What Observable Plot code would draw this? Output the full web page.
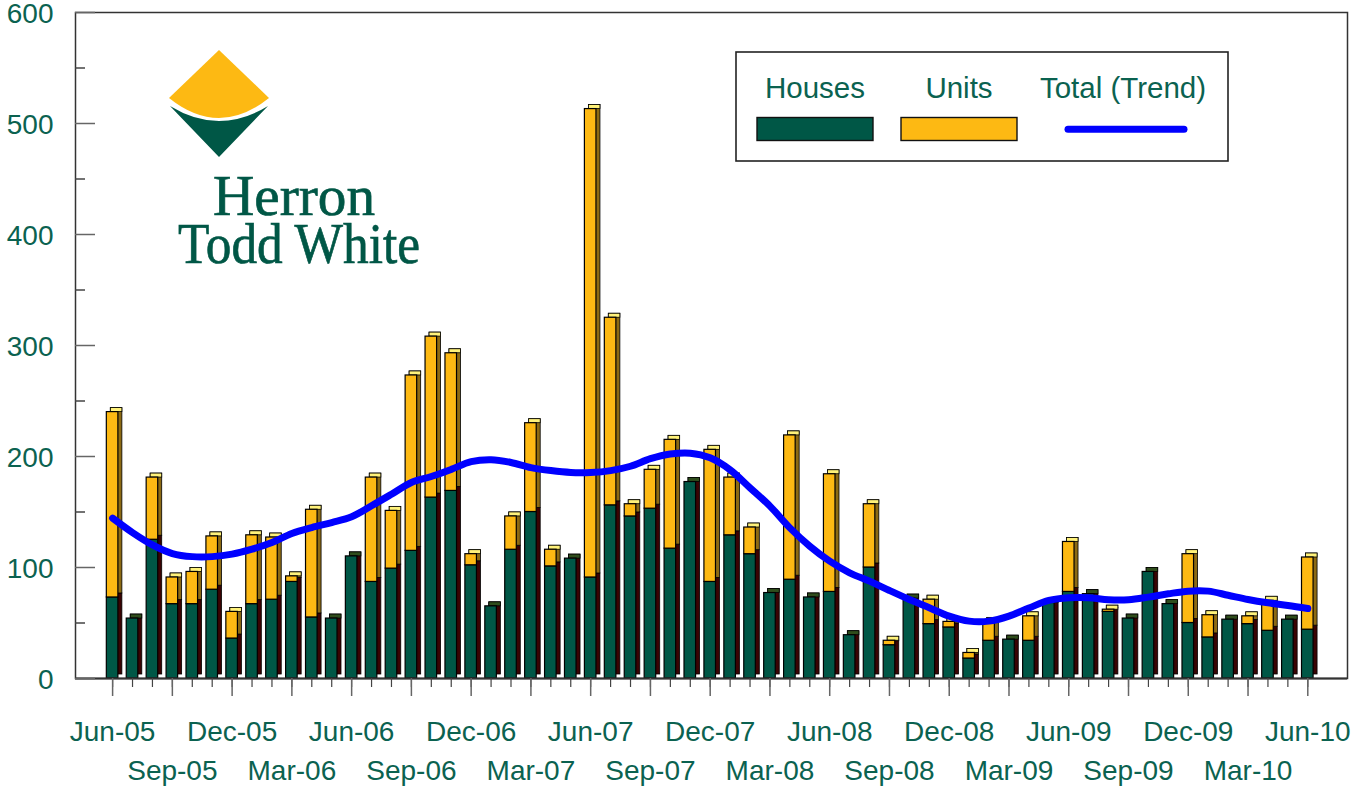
<!DOCTYPE html>
<html>
<head>
<meta charset="utf-8">
<script src="https://cdn.jsdelivr.net/npm/d3@7"></script>
<script src="https://cdn.jsdelivr.net/npm/@observablehq/plot@0.6"></script>
<style>
  html, body { margin: 0; padding: 0; background: #fff; }
  #wrap { position: relative; width: 1355px; height: 790px; }
  #overlay { position: absolute; left: 0; top: 0; pointer-events: none; }
</style>
</head>
<body>
<div id="wrap">
  <div id="chart"></div>
  <svg id="overlay" width="1355" height="790" xmlns="http://www.w3.org/2000/svg">
    <!-- logo -->
    <path d="M169,98 L219,50 L269,98 Q219,138 169,98 Z" fill="#fdb913"/>
    <path d="M170,106 Q219,136 268,106 L219,157 Z" fill="#005746"/>
    <text font-family="'Liberation Serif', 'DejaVu Serif', serif" font-size="57" fill="#005746" stroke="#005746" stroke-width="0.7" text-anchor="start">
      <tspan x="213" y="215" textLength="162" lengthAdjust="spacingAndGlyphs">Herron</tspan>
      <tspan x="178" y="263" textLength="242" lengthAdjust="spacingAndGlyphs">Todd White</tspan>
    </text>
    <!-- legend -->
    <rect x="736" y="52" width="492" height="109" fill="#fff" stroke="#222" stroke-width="1.6"/>
    <g font-family="'Liberation Sans', Arial, sans-serif" font-size="29.5" fill="#0b6250" text-anchor="middle">
      <text x="815" y="98">Houses</text>
      <text x="959" y="98">Units</text>
      <text x="1123" y="98">Total (Trend)</text>
    </g>
    <rect x="757" y="117.5" width="116" height="23" fill="#005746" stroke="#111" stroke-width="1.4"/>
    <rect x="901" y="117.5" width="116" height="23" fill="#fdb913" stroke="#111" stroke-width="1.4"/>
    <line x1="1068" y1="129.3" x2="1184" y2="129.3" stroke="#0000ff" stroke-width="7" stroke-linecap="round"/>
  </svg>
</div>
<script>
// ---- data ----
const months = [
  "Jun-05","Jul-05","Aug-05","Sep-05","Oct-05","Nov-05","Dec-05",
  "Jan-06","Feb-06","Mar-06","Apr-06","May-06","Jun-06","Jul-06","Aug-06","Sep-06","Oct-06","Nov-06","Dec-06",
  "Jan-07","Feb-07","Mar-07","Apr-07","May-07","Jun-07","Jul-07","Aug-07","Sep-07","Oct-07","Nov-07","Dec-07",
  "Jan-08","Feb-08","Mar-08","Apr-08","May-08","Jun-08","Jul-08","Aug-08","Sep-08","Oct-08","Nov-08","Dec-08",
  "Jan-09","Feb-09","Mar-09","Apr-09","May-09","Jun-09","Jul-09","Aug-09","Sep-09","Oct-09","Nov-09","Dec-09",
  "Jan-10","Feb-10","Mar-10","Apr-10","May-10","Jun-10"
];
const houses = [
  73, 54, 125, 67, 67, 80, 36,
  67, 71, 87, 55, 54, 110, 87, 99, 115, 163, 169, 102,
  65, 116, 150, 101, 108, 91, 156, 146, 153, 117, 177, 87,
  129, 112, 77, 89, 73, 78, 39, 100, 30, 72, 49, 46,
  18, 34, 35, 34, 68, 78, 76, 60, 54, 96, 67, 50,
  37, 53, 49, 43, 53, 44
];
const units = [
  167, 0, 56, 24, 29, 48, 24,
  62, 56, 5, 97, 0, 0, 94, 52, 158, 145, 124, 10,
  0, 30, 80, 15, 0, 422, 169, 11, 35, 98, 0, 119,
  52, 24, 0, 130, 0, 106, 0, 57, 4, 0, 22, 5,
  5, 17, 0, 22, 0, 45, 0, 2, 0, 0, 0, 62,
  20, 0, 7, 27, 0, 65
];
const trend = [
  144.5, 131.5, 120.4, 112.6, 109.8, 109.8, 112,
  116.5, 122.5, 130.6, 136, 140.5, 145.7, 155.6, 166, 176.6, 182, 188.4, 195.3,
  197, 194.6, 190, 187.3, 185.6, 185.6, 187.3, 191.2, 198, 202.2, 203, 198.8,
  188, 171.8, 155.3, 135.7, 119.2, 105.7, 95.2, 87.7, 79.3, 71.2, 63.7, 56.2,
  51.7, 51.7, 56.2, 63.5, 70.3, 72.7, 72.7, 70.9, 70.9, 73.3, 76.3, 78.7,
  78.7, 75, 71.2, 68.2, 65.8, 63
];
const yTicks = [0, 100, 200, 300, 400, 500, 600];
const yMinor = [50, 150, 250, 350, 450, 550];
const labelsRow1 = months.filter(m => m.startsWith("Jun") || m.startsWith("Dec"));
const labelsRow2 = months.filter(m => m.startsWith("Mar") || m.startsWith("Sep"));
const quarterly = months.filter(m => /^(Mar|Jun|Sep|Dec)/.test(m));

// ---- table ----
const data = months.map((m, i) => ({
  month: m, houses: houses[i], units: units[i], total: houses[i] + units[i], trend: trend[i]
}));
const withUnits = data.filter(d => d.units > 0);
const housesOnly = data.filter(d => d.units === 0);

const GREEN = "#0b6250";
const HOUSE = "#005746";
const UNIT = "#fdb913";
const D = 4; // 3D depth

const chart = Plot.plot({
  width: 1355,
  height: 790,
  marginLeft: 75,
  marginRight: 8,
  marginTop: 12,
  marginBottom: 112,
  style: { fontFamily: "'Liberation Sans', Arial, sans-serif", background: "white", overflow: "visible" },
  x: { type: "band", domain: months, paddingInner: 0.42, paddingOuter: 1.638, align: 0.48, round: false, label: null, axis: null },
  y: { domain: [0, 600], label: null, axis: null },
  marks: [
    Plot.frame({ stroke: "#333", strokeWidth: 1.5 }),
    // 3D side faces
    Plot.barY(data, { x: "month", y1: 0, y2: "houses", dx: D, dy: -D, fill: "#3a0303", stroke: "#000", strokeWidth: 0.8 }),
    Plot.barY(withUnits, { x: "month", y1: "houses", y2: "total", dx: D, dy: -D, fill: "#8c6a14", stroke: "#000", strokeWidth: 0.8 }),
    // 3D top faces
    Plot.barY(withUnits, { x: "month", y1: "total", y2: "total", insetTop: -D, dx: D, fill: "#fff27a", stroke: "#000", strokeWidth: 0.8 }),
    Plot.barY(housesOnly, { x: "month", y1: "total", y2: "total", insetTop: -D, dx: D, fill: "#2f4d1c", stroke: "#000", strokeWidth: 0.8 }),
    // front faces
    Plot.barY(data, { x: "month", y1: 0, y2: "houses", fill: HOUSE, stroke: "#000", strokeWidth: 1.2 }),
    Plot.barY(withUnits, { x: "month", y1: "houses", y2: "total", fill: UNIT, stroke: "#000", strokeWidth: 1.2 }),
    // trend line
    Plot.line(data, { x: "month", y: "trend", stroke: "#0000ff", strokeWidth: 7, curve: "catmull-rom", strokeLinecap: "round", strokeLinejoin: "round" }),
    // baseline
    Plot.ruleY([0], { stroke: "#333", strokeWidth: 2 }),
    // y axis ticks (inside) and labels
    Plot.axisY({ ticks: yTicks, tickSize: 20, dx: 20, tickFormat: () => "", stroke: "#666", strokeWidth: 1.5 }),
    Plot.axisY({ ticks: yMinor, tickSize: 10, dx: 10, tickFormat: () => "", stroke: "#444", strokeWidth: 1.5 }),
    Plot.axisY({ ticks: yTicks, tickSize: 0, tickPadding: 22, dy: 2, fontSize: 28, fill: GREEN, stroke: "none" }),
    // x axis ticks
    Plot.axisX({ ticks: months, tickSize: 9, tickFormat: () => "", stroke: "#444", strokeWidth: 1.2 }),
    Plot.axisX({ ticks: quarterly, tickSize: 18, tickFormat: () => "", stroke: "#666", strokeWidth: 1.5 }),
    // x axis labels (two staggered rows)
    Plot.axisX({ ticks: labelsRow1, tickSize: 0, tickPadding: 43, fontSize: 28, fill: GREEN, stroke: "none" }),
    Plot.axisX({ ticks: labelsRow2, tickSize: 0, tickPadding: 82, fontSize: 28, fill: GREEN, stroke: "none" })
  ]
});
document.getElementById("chart").appendChild(chart);
</script>
</body>
</html>
